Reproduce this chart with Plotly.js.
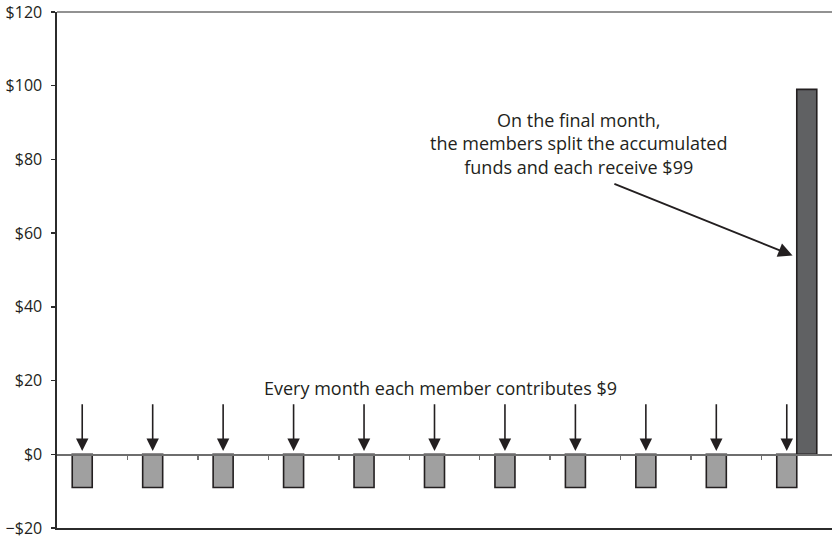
<!DOCTYPE html>
<html>
<head>
<meta charset="utf-8">
<script src="https://cdn.plot.ly/plotly-3.0.1.min.js"></script>
<style>
  html, body { margin: 0; padding: 0; background: #ffffff; }
  #chart { width: 832px; height: 539px; }
</style>
</head>
<body>
<div id="chart"></div>
<script>
// Savings circle: monthly contributions and the final payout
const months = [1, 2, 3, 4, 5, 6, 7, 8, 9, 10, 11];
const contributions = [-9, -9, -9, -9, -9, -9, -9, -9, -9, -9, -9];
const payoutMonths = [11];
const payouts = [99];

const yTickValues = [-20, 0, 20, 40, 60, 80, 100, 120];
const yTickLabels = ['\u2212$20', '$0', '$20', '$40', '$60', '$80', '$100', '$120'];

const contributionNote = 'Every month each member contributes $9';
const payoutNote = 'On the final month,<br>the members split the accumulated<br>funds and each receive $99';

const ink = '#231f20';
const font = { family: '"Open Sans", "Noto Sans", sans-serif', color: ink };

const bargap = 0.432;
const barWidth = (1 - bargap) / 2;          // width of one bar inside its group
const yMin = yTickValues[0];
const yMax = yTickValues[yTickValues.length - 1];
const xRange = [months[0] - 0.5, months[months.length - 1] + 0.5];

// boundaries between months, marked on the zero line
const boundaries = months.slice(0, -1).map(m => m + 0.5);

const traces = [
  {
    type: 'bar',
    name: 'Contribution',
    x: months,
    y: contributions,
    marker: { color: '#a0a0a0', line: { color: ink, width: 1.6 } },
    hoverinfo: 'skip'
  },
  {
    type: 'bar',
    name: 'Payout',
    x: payoutMonths,
    y: payouts,
    marker: { color: '#606163', line: { color: ink, width: 1.6 } },
    hoverinfo: 'skip'
  },
  // carrier for the zero-line axis (draws nothing itself)
  {
    type: 'scatter',
    mode: 'none',
    x: months,
    y: contributions.map(() => 0),
    xaxis: 'x2',
    yaxis: 'y',
    hoverinfo: 'skip',
    showlegend: false
  }
];

// a downward arrow above every contribution bar
const annotations = months.map(m => ({
  x: m - barWidth / 2,
  y: 0.9,
  xref: 'x', yref: 'y',
  ax: m - barWidth / 2,
  ay: 14,
  axref: 'x', ayref: 'y',
  text: '',
  showarrow: true,
  arrowhead: 2,
  arrowsize: 1.55,
  arrowwidth: 1.6,
  arrowcolor: ink
}));

annotations.push({
  x: 5.94, y: 18.1,
  xref: 'x', yref: 'y',
  text: contributionNote,
  showarrow: false,
  xanchor: 'center', yanchor: 'middle',
  font: Object.assign({ size: 18 }, font)
});

annotations.push({
  x: 7.9, y: 84.3,
  xref: 'x', yref: 'y',
  text: payoutNote,
  showarrow: false,
  align: 'center',
  xanchor: 'center', yanchor: 'middle',
  font: Object.assign({ size: 18 }, font)
});

// arrow pointing at the payout bar
annotations.push({
  x: payoutMonths[0] - 0.06,
  y: payouts[0] * 0.545,
  xref: 'x', yref: 'y',
  ax: 8.39,
  ay: 73.5,
  axref: 'x', ayref: 'y',
  text: '',
  showarrow: true,
  arrowhead: 2,
  arrowsize: 1.5,
  arrowwidth: 1.9,
  arrowcolor: ink
});

const layout = {
  width: 832,
  height: 539,
  margin: { l: 57, r: 0, t: 12, b: 11 },
  paper_bgcolor: '#ffffff',
  plot_bgcolor: '#ffffff',
  showlegend: false,
  barmode: 'group',
  bargap: bargap,
  bargroupgap: 0,
  font: Object.assign({ size: 16 }, font),
  xaxis: {
    range: xRange,
    showgrid: false,
    zeroline: false,
    showticklabels: false,
    ticks: '',
    showline: true,
    linecolor: '#2b2b2b',
    linewidth: 1.6,
    fixedrange: true
  },
  xaxis2: {
    overlaying: 'x',
    anchor: 'free',
    position: (0 - yMin) / (yMax - yMin),
    range: xRange,
    showgrid: false,
    zeroline: false,
    showticklabels: false,
    tickmode: 'array',
    tickvals: boundaries,
    ticks: 'outside',
    ticklen: 4,
    tickwidth: 1.4,
    tickcolor: '#6e6e6e',
    showline: true,
    linecolor: '#6e6e6e',
    linewidth: 1.6,
    fixedrange: true
  },
  yaxis: {
    range: [yMin, yMax],
    tickmode: 'array',
    tickvals: yTickValues,
    ticktext: yTickLabels,
    ticks: 'outside',
    ticklen: 4,
    tickwidth: 1.4,
    tickcolor: '#2b2b2b',
    ticklabelstandoff: 6,
    ticklabeloverflow: 'allow',
    showgrid: false,
    zeroline: false,
    showline: true,
    linecolor: '#2b2b2b',
    linewidth: 1.6,
    tickfont: Object.assign({ size: 16 }, font),
    fixedrange: true
  },
  shapes: [
    {
      type: 'line', xref: 'paper', yref: 'paper',
      x0: 0, x1: 1, y0: 1, y1: 1,
      line: { color: '#6e6e6e', width: 1.6 }
    }
  ],
  annotations: annotations
};

Plotly.newPlot('chart', traces, layout, { displayModeBar: false, staticPlot: true });
</script>
</body>
</html>
